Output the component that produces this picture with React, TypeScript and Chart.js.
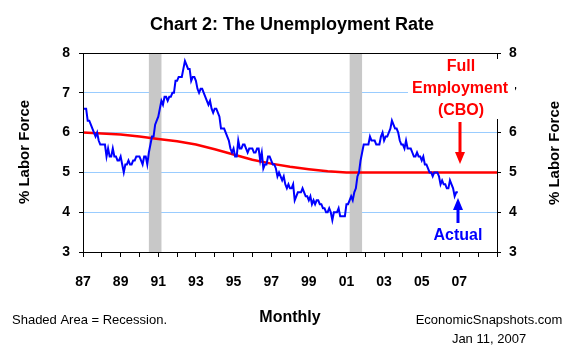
import React, { useEffect, useRef } from "react";
import { Chart, registerables } from "chart.js";

Chart.register(...registerables);

// Monthly civilian unemployment rate, Jan 1987 - Dec 2006 (%)
const actualStartYear = 1987;
const actualRate: number[] = [
  6.6, 6.6, 6.6, 6.3, 6.3, 6.2, 6.1, 6.0, 5.9, 6.0, 5.8, 5.7, // 1987
  5.7, 5.7, 5.7, 5.4, 5.6, 5.4, 5.4, 5.6, 5.4, 5.4, 5.3, 5.3, // 1988
  5.4, 5.2, 5.0, 5.2, 5.2, 5.3, 5.2, 5.2, 5.3, 5.3, 5.4, 5.4, // 1989
  5.4, 5.3, 5.2, 5.4, 5.4, 5.2, 5.5, 5.7, 5.9, 5.9, 6.2, 6.3, // 1990
  6.4, 6.6, 6.8, 6.7, 6.9, 6.9, 6.8, 6.9, 6.9, 7.0, 7.0, 7.3, // 1991
  7.3, 7.4, 7.4, 7.4, 7.6, 7.8, 7.7, 7.6, 7.6, 7.3, 7.4, 7.4, // 1992
  7.3, 7.1, 7.0, 7.1, 7.1, 7.0, 6.9, 6.8, 6.7, 6.8, 6.6, 6.5, // 1993
  6.6, 6.6, 6.5, 6.4, 6.1, 6.1, 6.1, 6.0, 5.9, 5.8, 5.6, 5.5, // 1994
  5.6, 5.4, 5.4, 5.8, 5.6, 5.6, 5.7, 5.7, 5.6, 5.5, 5.6, 5.6, // 1995
  5.6, 5.5, 5.5, 5.6, 5.6, 5.3, 5.5, 5.1, 5.2, 5.2, 5.4, 5.4, // 1996
  5.3, 5.2, 5.2, 5.1, 4.9, 5.0, 4.9, 4.8, 4.9, 4.7, 4.6, 4.7, // 1997
  4.6, 4.6, 4.7, 4.3, 4.4, 4.5, 4.5, 4.5, 4.6, 4.5, 4.4, 4.4, // 1998
  4.3, 4.4, 4.2, 4.3, 4.2, 4.3, 4.3, 4.2, 4.2, 4.1, 4.1, 4.0, // 1999
  4.0, 4.1, 4.0, 3.8, 4.0, 4.0, 4.0, 4.1, 3.9, 3.9, 3.9, 3.9, // 2000
  4.2, 4.2, 4.3, 4.4, 4.3, 4.5, 4.6, 4.9, 5.0, 5.3, 5.5, 5.7, // 2001
  5.7, 5.7, 5.7, 5.9, 5.8, 5.8, 5.8, 5.7, 5.7, 5.7, 5.9, 6.0, // 2002
  5.8, 5.9, 5.9, 6.0, 6.1, 6.3, 6.2, 6.1, 6.1, 6.0, 5.8, 5.7, // 2003
  5.7, 5.6, 5.8, 5.6, 5.6, 5.6, 5.5, 5.4, 5.4, 5.5, 5.4, 5.4, // 2004
  5.3, 5.4, 5.2, 5.2, 5.1, 5.0, 5.0, 4.9, 5.0, 5.0, 5.0, 4.9, // 2005
  4.7, 4.8, 4.7, 4.7, 4.6, 4.6, 4.8, 4.7, 4.6, 4.4, 4.5, 4.5, // 2006
];

// CBO full-employment (NAIRU) rate, January of each year (%)
const cboYears: number[] = [
  1987, 1988, 1989, 1990, 1991, 1992, 1993, 1994, 1995, 1996, 1997, 1998,
  1999, 2000, 2001, 2002, 2003, 2004, 2005, 2006, 2007, 2008, 2009,
];
const cboRate: number[] = [
  6.0, 5.98, 5.95, 5.9, 5.84, 5.78, 5.7, 5.58, 5.45, 5.32, 5.22, 5.14,
  5.08, 5.03, 5.0, 5.0, 5.0, 5.0, 5.0, 5.0, 5.0, 5.0, 5.0,
];

// Recessions (decimal years)
const recessionStart: number[] = [1990.5, 2001.17];
const recessionEnd: number[] = [1991.17, 2001.83];

const xMin = 1987;
const xMax = 2009;
const xLabelLast = 2007;
const yTicks: number[] = [3, 4, 5, 6, 7, 8];

const FONT = '"Liberation Sans", Arial, sans-serif';

export default function App() {
  const ref = useRef<HTMLCanvasElement | null>(null);

  useEffect(() => {
    if (!ref.current) return;

    const decor = {
      id: "decor",
      beforeDatasetsDraw(chart: any) {
        const { ctx, chartArea, scales } = chart;
        ctx.save();
        ctx.fillStyle = "#c8c8c8";
        recessionStart.forEach((s, i) => {
          const x0 = scales.x.getPixelForValue(s);
          const x1 = scales.x.getPixelForValue(recessionEnd[i]);
          ctx.fillRect(x0, chartArea.top, x1 - x0, chartArea.bottom - chartArea.top);
        });
        ctx.restore();
      },
      afterDatasetsDraw(chart: any) {
        const { ctx, chartArea: a } = chart;
        ctx.save();
        // frame
        ctx.strokeStyle = "#000";
        ctx.lineWidth = 1;
        ctx.beginPath();
        ctx.moveTo(a.left + 0.5, a.top);
        ctx.lineTo(a.left + 0.5, a.bottom + 0.5);
        ctx.lineTo(a.right + 0.5, a.bottom + 0.5);
        ctx.lineTo(a.right + 0.5, a.top);
        ctx.moveTo(a.left, a.top + 0.5);
        ctx.lineTo(a.right + 4, a.top + 0.5);
        ctx.stroke();

        // white label box
        ctx.fillStyle = "#fff";
        ctx.fillRect(408, 59, 107, 60);

        // Full Employment annotation
        ctx.fillStyle = "#ff0000";
        ctx.font = `bold 16px ${FONT}`;
        ctx.textAlign = "center";
        ctx.textBaseline = "middle";
        ctx.fillText("Full", 461, 67);
        ctx.fillText("Employment", 460, 89);
        ctx.fillText("(CBO)", 461, 111);

        // red arrow down
        ctx.strokeStyle = "#ff0000";
        ctx.lineWidth = 3;
        ctx.beginPath();
        ctx.moveTo(460, 122);
        ctx.lineTo(460, 154);
        ctx.stroke();
        ctx.beginPath();
        ctx.moveTo(455, 152);
        ctx.lineTo(465, 152);
        ctx.lineTo(460, 164);
        ctx.closePath();
        ctx.fill();

        // Actual annotation
        ctx.fillStyle = "#0000ff";
        ctx.fillText("Actual", 458, 236);
        ctx.strokeStyle = "#0000ff";
        ctx.beginPath();
        ctx.moveTo(458, 223);
        ctx.lineTo(458, 207);
        ctx.stroke();
        ctx.beginPath();
        ctx.moveTo(453, 210);
        ctx.lineTo(463, 210);
        ctx.lineTo(458, 198);
        ctx.closePath();
        ctx.fill();
        ctx.restore();
      },
      afterDraw(chart: any) {
        const { ctx } = chart;
        ctx.save();
        ctx.fillStyle = "#000";
        ctx.textBaseline = "middle";
        ctx.textAlign = "center";
        ctx.font = `bold 18px ${FONT}`;
        ctx.fillText("Chart 2: The Unemployment Rate", 292, 25);

        ctx.font = `bold 16px ${FONT}`;
        ctx.fillText("Monthly", 290, 318);

        ctx.font = `bold 15px ${FONT}`;
        ctx.save();
        ctx.translate(25, 152);
        ctx.rotate(-Math.PI / 2);
        ctx.fillText("% Labor Force", 0, 0);
        ctx.restore();
        ctx.save();
        ctx.translate(555, 153);
        ctx.rotate(-Math.PI / 2);
        ctx.fillText("% Labor Force", 0, 0);
        ctx.restore();

        ctx.font = `13px ${FONT}`;
        ctx.textAlign = "left";
        ctx.fillText("Shaded Area = Recession.", 12, 320);
        ctx.textAlign = "center";
        ctx.fillText("EconomicSnapshots.com", 489, 320);
        ctx.fillText("Jan 11, 2007", 489, 339);
        ctx.restore();
      },
    };

    const actualPoints = actualRate.map((v, i) => ({ x: actualStartYear + i / 12, y: v }));
    const cboPoints = cboYears.map((yr, i) => ({ x: yr, y: cboRate[i] }));

    const tickFont = { family: FONT, size: 14, weight: "bold" as const };

    const chart = new Chart(ref.current, {
      type: "line",
      data: {
        datasets: [
          {
            label: "Actual",
            data: actualPoints,
            borderColor: "#0000ff",
            borderWidth: 2,
            pointRadius: 0,
            tension: 0,
            yAxisID: "y",
          },
          {
            label: "Full Employment (CBO)",
            data: cboPoints,
            borderColor: "#ff0000",
            borderWidth: 2.5,
            pointRadius: 0,
            tension: 0,
            yAxisID: "y",
          },
        ],
      },
      options: {
        responsive: false,
        animation: false,
        layout: { padding: { top: 53, left: 0, right: 0, bottom: 0 } },
        plugins: {
          legend: { display: false },
          title: { display: false },
          tooltip: { enabled: false },
        },
        scales: {
          x: {
            type: "linear",
            min: xMin,
            max: xMax,
            afterFit: (s: any) => {
              s.height = 98;
            },
            afterBuildTicks: (s: any) => {
              const t = [];
              for (let y = xMin; y <= xMax; y++) t.push({ value: y });
              s.ticks = t;
            },
            border: { display: false },
            grid: {
              drawOnChartArea: false,
              tickLength: 5,
              tickColor: "#000",
            },
            ticks: {
              autoSkip: false,
              maxRotation: 0,
              color: "#000",
              font: tickFont,
              padding: 17,
              callback: (v: any) =>
                Number(v) % 2 === 1 && Number(v) <= xLabelLast
                  ? String(Number(v) % 100).padStart(2, "0")
                  : "",
            },
          },
          y: {
            position: "left",
            min: 3,
            max: 8,
            afterFit: (s: any) => {
              s.width = 83;
            },
            afterBuildTicks: (s: any) => {
              s.ticks = yTicks.map((v) => ({ value: v }));
            },
            border: { display: false },
            grid: {
              color: (c: any) =>
                c.tick && c.tick.value > 3 && c.tick.value < 8 ? "#99ccff" : "rgba(0,0,0,0)",
              tickColor: "#000",
              tickLength: 4,
            },
            ticks: { color: "#000", font: tickFont, padding: 9 },
          },
          y2: {
            position: "right",
            min: 3,
            max: 8,
            afterFit: (s: any) => {
              s.width = 83;
            },
            afterBuildTicks: (s: any) => {
              s.ticks = yTicks.map((v) => ({ value: v }));
            },
            border: { display: false },
            grid: { drawOnChartArea: false, tickColor: "#000", tickLength: 4 },
            ticks: { color: "#000", font: tickFont, padding: 8 },
          },
        },
      },
      plugins: [decor],
    });

    return () => chart.destroy();
  }, []);

  return (
    <div style={{ position: "fixed", left: 0, top: 0, width: 580, height: 350, background: "#fff" }}>
      <canvas ref={ref} width={580} height={350} style={{ width: 580, height: 350 }} />
    </div>
  );
}
